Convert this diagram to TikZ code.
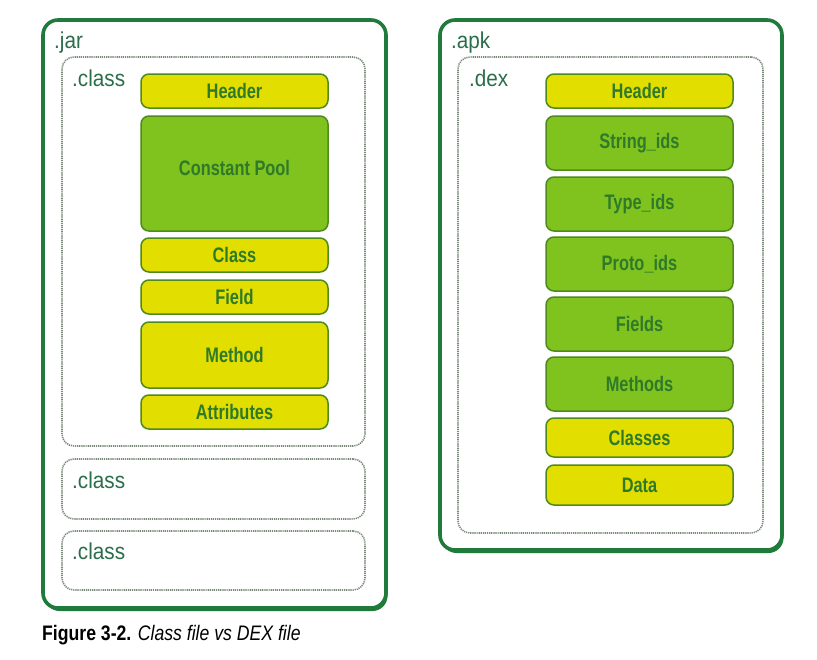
\documentclass[tikz,border=0pt]{standalone}
\usepackage{fontspec}
\setmainfont{Liberation Sans}[FakeStretch=0.9]
\newfontfamily\boxfont{Liberation Sans}[FakeStretch=0.78]
\newfontfamily\capfont{Liberation Sans}[FakeStretch=0.84]
\usetikzlibrary{shadows}
\definecolor{outerg}{HTML}{1F7A3C}
\definecolor{dotg}{HTML}{7A8A7A}
\definecolor{yel}{HTML}{E2DE00}
\definecolor{grn}{HTML}{80C21E}
\definecolor{bord}{HTML}{4E8A1C}
\definecolor{txtg}{HTML}{2F7A2A}
\definecolor{lblg}{HTML}{2A6E4A}
\tikzset{
  outerbox/.style={draw=outerg, line width=3.6pt, rounded corners=15pt, fill=white, inner sep=0pt,
     drop shadow={shadow xshift=1.5pt, shadow yshift=-3pt, fill=outerg, opacity=1}},
  dotbox/.style={draw=dotg, line width=1.6pt, dash pattern=on 1.2pt off 0.9pt, rounded corners=12pt, inner sep=0pt},
  part/.style={draw=bord, line width=1.5pt, rounded corners=8pt, minimum width=187pt, inner sep=0pt,
     font=\boxfont\fontsize{21}{23}\selectfont\bfseries, text=txtg},
  ybox/.style={part, fill=yel},
  gbox/.style={part, fill=grn},
  lbl/.style={anchor=west, inner sep=0pt, font=\fontsize{23}{25}\selectfont, text=lblg},
}
\begin{document}
\begin{tikzpicture}[x=1pt,y=-1pt]
\useasboundingbox (0,0) rectangle (817,659);
% outer containers
\node[outerbox, minimum width=343pt, minimum height=588pt] (jar) at (214.5,314) {};
\node[outerbox, minimum width=342pt, minimum height=530pt] (apk) at (611,285) {};
\node[lbl] (jarl) at (54,43) {.jar};
\node[lbl] (apkl) at (451,43) {.apk};
% dotted boxes
\node[dotbox, minimum width=303pt, minimum height=389pt] (c1) at (213.5,251.5) {};
\node[dotbox, minimum width=303pt, minimum height=60pt] (c2) at (213.5,489) {};
\node[dotbox, minimum width=303pt, minimum height=59pt] (c3) at (213.5,560.5) {};
\node[dotbox, minimum width=305pt, minimum height=476pt] (dex) at (610.5,295) {};
\node[lbl] (c1l) at (72,78) {.class};
\node[lbl] (c2l) at (72,480) {.class};
\node[lbl] (c3l) at (72,551) {.class};
\node[lbl] (dexl) at (469,78) {.dex};
% class parts
\node[ybox, minimum height=34pt] (ch) at (234.5,91) {Header};
\node[gbox, minimum height=115pt, text depth=12pt] (cp) at (234.5,173.5) {Constant Pool};
\node[ybox, minimum height=34pt] (cc) at (234.5,255) {Class};
\node[ybox, minimum height=34pt] (cf) at (234.5,297) {Field};
\node[ybox, minimum height=66pt] (cm) at (234.5,355) {Method};
\node[ybox, minimum height=34pt] (ca) at (234.5,412) {Attributes};
% dex parts
\node[ybox, minimum height=34pt] (dh) at (639.5,91) {Header};
\node[gbox, minimum height=54pt] (ds) at (639.5,143) {String\_ids};
\node[gbox, minimum height=54pt] (dt) at (639.5,204) {Type\_ids};
\node[gbox, minimum height=54pt] (dp) at (639.5,264) {Proto\_ids};
\node[gbox, minimum height=54pt] (df) at (639.5,324) {Fields};
\node[gbox, minimum height=54pt] (dm) at (639.5,384) {Methods};
\node[ybox, minimum height=39pt] (dc) at (639.5,437.5) {Classes};
\node[ybox, minimum height=40pt] (dd) at (639.5,485) {Data};
% caption
\node[anchor=west, inner sep=0pt, font=\capfont\fontsize{21}{23}\selectfont] (cap) at (42,635)
  {\textbf{Figure 3-2.} \textit{Class file vs DEX file}};
\end{tikzpicture}
\end{document}
